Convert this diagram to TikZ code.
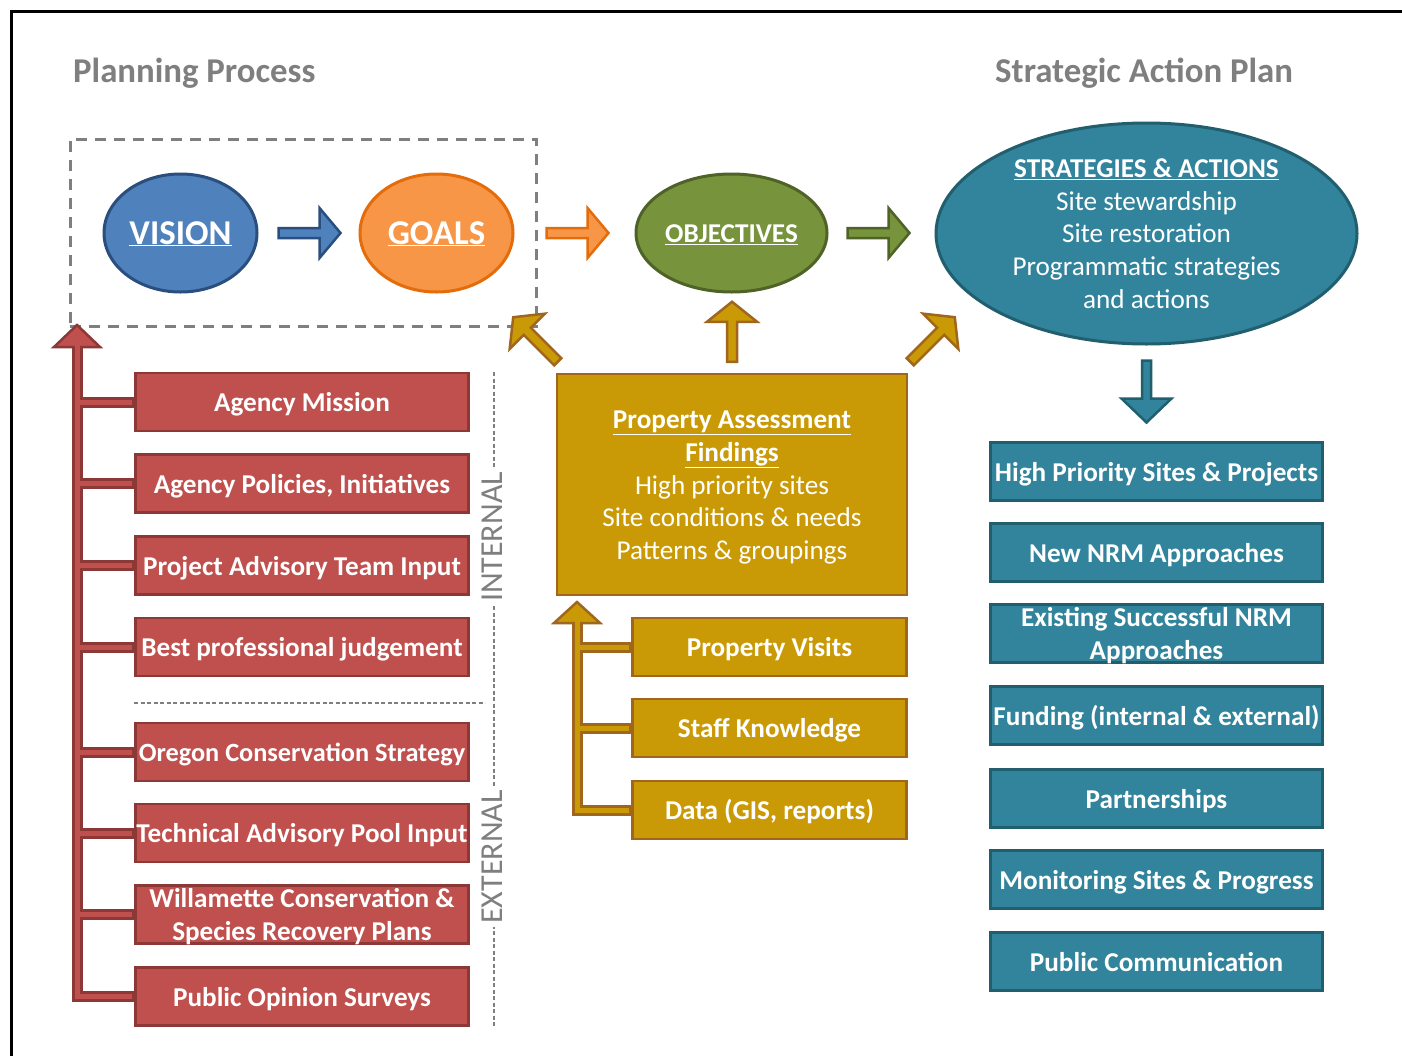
\documentclass[tikz,border=0pt]{standalone}
\usepackage{fontspec}
\setmainfont{Carlito}
\usetikzlibrary{shapes.geometric,calc}
\definecolor{redF}{HTML}{C0504D}
\definecolor{redD}{HTML}{8C3836}
\definecolor{goldF}{HTML}{C99A06}
\definecolor{goldD}{HTML}{A0661E}
\definecolor{tealF}{HTML}{31849B}
\definecolor{tealD}{HTML}{215E6E}
\definecolor{blueF}{HTML}{4F81BD}
\definecolor{blueD}{HTML}{2A4E7E}
\definecolor{orF}{HTML}{F79646}
\definecolor{orD}{HTML}{E46C0A}
\definecolor{grF}{HTML}{77933C}
\definecolor{grD}{HTML}{4F6228}
\definecolor{grayT}{HTML}{7F7F7F}
\newcommand\boxfont{\bfseries\fontsize{27.2}{32.5}\selectfont}
\newcommand\regfont{\fontsize{27.2}{32.75}\selectfont}
\newcommand\lowtxt[1]{\raisebox{-3pt}[\dimexpr\height-10pt\relax][\dimexpr\depth-10pt\relax]{\begin{tabular}{@{}c@{}}#1\end{tabular}}}
\tikzset{
  basebox/.style={rectangle, minimum height=58, inner sep=0pt, line width=2.5pt,
    text=white, font=\boxfont, align=center},
  redbox/.style={basebox, fill=redF, draw=redD, minimum width=333},
  goldbox/.style={basebox, fill=goldF, draw=goldD, minimum width=274},
  tealbox/.style={basebox, fill=tealF, draw=tealD, minimum width=332},
  ell/.style={ellipse, inner sep=0pt, line width=3pt, text=white},
  ptitle/.style={text=grayT, font=\bfseries\fontsize{34.8}{40}\selectfont, inner sep=0pt},
  sidelabel/.style={rotate=90, fill=white, text=grayT, font=\fontsize{32}{38}\selectfont, inner sep=3pt},
  thindash/.style={grayT, line width=1.2pt, dash pattern=on 4pt off 2.5pt},
  pics/blockarr/.style n args={6}{code={
    \filldraw[fill=#5, draw=#6, line width=2.5pt, line join=miter]
      (0,-#2) -- ({#1-#4},-#2) -- ({#1-#4},-#3) -- (#1,0) -- ({#1-#4},#3) -- ({#1-#4},#2) -- (0,#2) -- cycle;
  }}
}
\begin{document}
\begin{tikzpicture}[x=1pt,y=-1pt]
\useasboundingbox (0,0) rectangle (1402,1055);
\fill[white] (0,0) rectangle (1402,1055);
% outer frame
\draw[black, line width=3pt] (11,1060) -- (11,11) -- (1410,11);

% titles
\node[ptitle, anchor=base west] (ttl1) at (73,82) {Planning Process};
\node[ptitle, anchor=base west] (ttl2) at (995,82) {Strategic Action Plan};

% dashed frame around vision/goals
\node[draw=grayT, line width=3pt, dash pattern=on 11pt off 8pt, minimum width=466, minimum height=187, inner sep=0pt] (pbox) at (303,232.5) {};

% ellipses
\node[ell, fill=blueF, draw=blueD, minimum width=153, minimum height=118, font=\bfseries\fontsize{34.8}{40}\selectfont] (vision) at (180.5,233) {\lowtxt{\underline{VISION}}};
\node[ell, fill=orF, draw=orD, minimum width=153, minimum height=118, font=\bfseries\fontsize{34.8}{40}\selectfont] (goals) at (436.5,233) {\lowtxt{\underline{GOALS}}};
\node[ell, fill=grF, draw=grD, minimum width=191, minimum height=118, font=\boxfont] (obj) at (731.5,233) {\lowtxt{\underline{OBJECTIVES}}};
\node[ell, fill=tealF, draw=tealD, minimum width=421, minimum height=221] (sa) at (1146.5,233.5) {};
\node[text=white, align=center, font=\regfont, inner sep=0pt] (satext) at (1146.5,233.5)
  {\textbf{\underline{STRATEGIES \& ACTIONS}}\\Site stewardship\\Site restoration\\Programmatic strategies\\and actions};

% block arrows between ellipses
\coordinate (a1) at ($(vision.east)+(20,0)$);
\coordinate (a2) at ($(goals.east)+(32,0)$);
\coordinate (a3) at ($(obj.east)+(19,0)$);
\coordinate (a4) at ($(sa.south)+(0,15)$);
\pic at (a1) {blockarr={62}{5}{25}{21}{blueF}{blueD}};
\pic at (a2) {blockarr={62}{5}{25}{21}{orF}{orD}};
\pic at (a3) {blockarr={62}{5}{25}{21}{grF}{grD}};
\pic[rotate=-90] at (a4) {blockarr={62}{4.5}{25}{24}{tealF}{tealD}};

% property assessment box
\node[basebox, fill=goldF, draw=goldD, minimum width=350, minimum height=221, font=\regfont] (pa) at (732,484.5)
  {\lowtxt{\textbf{\underline{Property Assessment}}\\\textbf{\underline{Findings}}\\High priority sites\\Site conditions \& needs\\Patterns \& groupings}};

\coordinate (a5) at ($(pa.north)+(0,-11)$);
\coordinate (a6) at ($(pa.north west)+(2,-11)$);
\coordinate (a7) at ($(pa.north east)+(2,-11)$);
\pic[rotate=90] at (a5) {blockarr={60}{5}{25}{20}{goldF}{goldD}};
\pic[rotate=135] at (a6) {blockarr={63}{5}{25}{20}{goldF}{goldD}};
\pic[rotate=45] at (a7) {blockarr={63}{5}{25}{20}{goldF}{goldD}};

% red input boxes
\node[redbox] (r1) at (302,402) {\lowtxt{Agency Mission}};
\node[redbox] (r2) at (302,483.5) {\lowtxt{Agency Policies, Initiatives}};
\node[redbox] (r3) at (302,565.5) {\lowtxt{Project Advisory Team Input}};
\node[redbox] (r4) at (302,647) {\lowtxt{Best professional judgement}};
\node[redbox, font=\bfseries\fontsize{26.3}{32.5}\selectfont] (r5) at (302,752) {\lowtxt{Oregon Conservation Strategy}};
\node[redbox] (r6) at (302,833) {\lowtxt{Technical Advisory Pool Input}};
\node[redbox] (r7) at (302,914.5) {\lowtxt{Willamette Conservation \&\\Species Recovery Plans}};
\node[redbox] (r8) at (302,996.5) {\lowtxt{Public Opinion Surveys}};

% gold input boxes
\node[goldbox] (g1) at (769.5,647) {\lowtxt{Property Visits}};
\node[goldbox] (g2) at (769.5,728) {\lowtxt{Staff Knowledge}};
\node[goldbox] (g3) at (769.5,810) {\lowtxt{Data (GIS, reports)}};

% teal output boxes
\node[tealbox] (t1) at (1156.5,471.5) {\lowtxt{High Priority Sites \& Projects}};
\node[tealbox] (t2) at (1156.5,552.5) {\lowtxt{New NRM Approaches}};
\node[tealbox] (t3) at (1156.5,633.5) {\lowtxt{Existing Successful NRM\\Approaches}};
\node[tealbox] (t4) at (1156.5,715.5) {\lowtxt{Funding (internal \& external)}};
\node[tealbox] (t5) at (1156.5,798.5) {\lowtxt{Partnerships}};
\node[tealbox] (t6) at (1156.5,879.5) {\lowtxt{Monitoring Sites \& Progress}};
\node[tealbox] (t7) at (1156.5,961.5) {\lowtxt{Public Communication}};

% red collector tree
\coordinate (rtip) at (77,325);
\coordinate (rbase) at (77,347);
\filldraw[fill=redF, draw=redD, line width=2.5pt, line join=miter] (rtip) -- ++(-23,22) -- ++(46,0) -- cycle;
\draw[redD, line width=11pt, line join=miter] (rbase) |- (r8.west);
\foreach \n in {r1,r2,r3,r4,r5,r6,r7} \draw[redD, line width=11pt] (\n.west) -- (\n.west -| rbase);
\draw[redF, line width=5pt, line join=miter] ($(rbase)+(0,-3)$) |- ($(r8.west)+(-2,0)$);
\foreach \n in {r1,r2,r3,r4,r5,r6,r7} \draw[redF, line width=5pt] ($(\n.west)+(-2,0)$) -- (\n.west -| rbase);

% gold collector tree
\coordinate (gtip) at (577,602);
\coordinate (gbase) at (577,623);
\filldraw[fill=goldF, draw=goldD, line width=2.5pt, line join=miter] (gtip) -- ++(-23,21) -- ++(46,0) -- cycle;
\draw[goldD, line width=11pt, line join=miter] (gbase) |- (g3.west);
\foreach \n in {g1,g2} \draw[goldD, line width=11pt] (\n.west) -- (\n.west -| gbase);
\draw[goldF, line width=5pt, line join=miter] ($(gbase)+(0,-3)$) |- ($(g3.west)+(-2,0)$);
\foreach \n in {g1,g2} \draw[goldF, line width=5pt] ($(\n.west)+(-2,0)$) -- (\n.west -| gbase);

% internal / external separators
\coordinate (vtop) at (494,372);
\coordinate (vbot) at (494,1027);
\draw[thindash] (vtop) -- (vbot);
\coordinate (hl) at (134,703);
\coordinate (hr) at (485,703);
\draw[thindash] (hl) -- (hr);
\node[sidelabel] (lint) at (492,537) {INTERNAL};
\node[sidelabel] (lext) at (492,857) {EXTERNAL};
\end{tikzpicture}
\end{document}
